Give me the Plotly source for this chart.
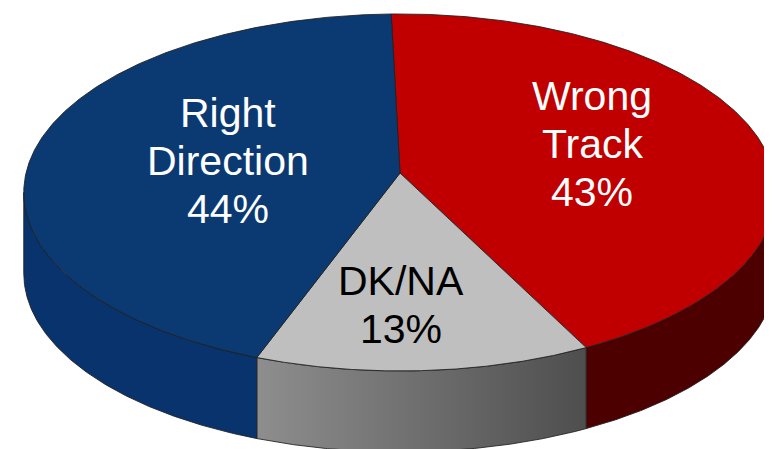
import numpy as np
import plotly.graph_objects as go

# ---- data ----
labels = ["Wrong Track", "DK/NA", "Right Direction"]
values = [43, 13, 44]
label_lines = [["Wrong", "Track"], ["DK/NA"], ["Right", "Direction"]]

# ---- style ----
top_colors = ["#c00000", "#bfbfbf", "#0b3a73"]
side_colors = ["#4d0000", "#7a7a7a", "#08336c"]
text_colors = ["white", "black", "white"]
label_first_baseline = [(584, 110), (393, 295), (220, 127)]
LINE_GAP = 48
FONT_SIZE = 41

W, H = 772, 449
CX, CY = 392, 165        # pie centre on screen
A, B = 374, 176.4        # semi-axes of the tilted disk
K = 0.109                # perspective factor
D = 81                   # thickness
START = -1.5             # degrees, clockwise from 12 o'clock


def proj(theta_deg, r=1.0):
    t = np.radians(theta_deg)
    u = r * np.sin(t)
    v = -r * np.cos(t)
    f = 1.0 / (1.0 - K * v)
    return CX + A * u * f, CY + B * v * f


total = float(sum(values))
bounds = [START]
for val in values:
    bounds.append(bounds[-1] + 360.0 * val / total)

fig = go.Figure()

front_lo = np.degrees(np.arccos(-K))
front_hi = 360 - front_lo

# side walls
for i in range(len(values)):
    a0, a1 = bounds[i], bounds[i + 1]
    lo, hi = max(a0, front_lo), min(a1, front_hi)
    if hi <= lo:
        continue
    th = np.linspace(lo, hi, 200)
    x, y = proj(th)
    xs = np.concatenate([x, x[::-1], x[:1]])
    ys = np.concatenate([y, y[::-1] + D, y[:1]])
    kw = {}
    if labels[i] == "DK/NA":
        kw["fillgradient"] = dict(type="horizontal",
                                  colorscale=[[0, "#8e8e8e"], [1, "#4e4e4e"]])
    else:
        kw["fillcolor"] = side_colors[i]
    fig.add_trace(go.Scatter(x=xs, y=ys, mode="lines", fill="toself",
                             line=dict(color="rgba(30,30,30,0.85)", width=1),
                             hoverinfo="skip", showlegend=False, **kw))

# top faces
for i in range(len(values)):
    a0, a1 = bounds[i], bounds[i + 1]
    th = np.linspace(a0, a1, 300)
    x, y = proj(th)
    xs = np.concatenate([[CX], x, [CX]])
    ys = np.concatenate([[CY], y, [CY]])
    fig.add_trace(go.Scatter(x=xs, y=ys, mode="lines", fill="toself",
                             fillcolor=top_colors[i],
                             line=dict(color="rgba(30,30,30,0.85)", width=1),
                             name=labels[i], hoverinfo="name",
                             showlegend=False))

# labels (one annotation per line for exact line spacing)
for i in range(len(values)):
    lines = label_lines[i] + [f"{values[i]}%"]
    bx, by = label_first_baseline[i]
    for j, ln in enumerate(lines):
        fig.add_annotation(x=bx, y=by + j * LINE_GAP - 0.53 * FONT_SIZE,
                           text=ln, showarrow=False,
                           xanchor="center", yanchor="middle",
                           font=dict(family="Liberation Sans, Arial, sans-serif",
                                     size=FONT_SIZE, color=text_colors[i]))

fig.update_layout(
    width=W, height=H,
    margin=dict(l=0, r=0, t=0, b=0),
    paper_bgcolor="white", plot_bgcolor="white",
    xaxis=dict(range=[0, W], visible=False, fixedrange=True),
    yaxis=dict(range=[H, 0], visible=False, fixedrange=True),
)

fig.write_html("out.html")
